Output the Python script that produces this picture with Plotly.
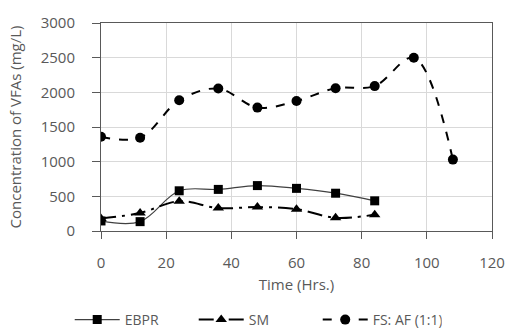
import plotly.graph_objects as go

time_ebpr = [0, 12, 24, 36, 48, 60, 72, 84]
ebpr = [145, 135, 580, 600, 655, 615, 545, 435]
time_sm = [0, 12, 24, 36, 48, 60, 72, 84]
sm = [180, 260, 430, 330, 345, 315, 190, 235]
time_fs = [0, 12, 24, 36, 48, 60, 72, 84, 96, 108]
fs = [1360, 1345, 1885, 2055, 1780, 1875, 2060, 2090, 2500, 1030]

x_ticks = [0, 20, 40, 60, 80, 100, 120]
y_ticks = [0, 500, 1000, 1500, 2000, 2500, 3000]

FONT = "Open Sans"
TXT = "#595959"

fig = go.Figure()
fig.add_trace(go.Scatter(
    x=time_ebpr, y=ebpr, name="EBPR", mode="lines+markers",
    line=dict(color="#404040", width=1.2, shape="spline"),
    marker=dict(symbol="square", size=9, color="black"),
))
fig.add_trace(go.Scatter(
    x=time_sm, y=sm, name="SM", mode="lines+markers",
    line=dict(color="black", width=2, dash="longdashdot", shape="spline"),
    marker=dict(symbol="triangle-up", size=10, color="black"),
))
fig.add_trace(go.Scatter(
    x=time_fs, y=fs, name="FS: AF (1:1)", mode="lines+markers",
    line=dict(color="black", width=2, dash="dash", shape="spline"),
    marker=dict(symbol="circle", size=10, color="black"),
))

fig.update_layout(
    width=507, height=328,
    margin=dict(l=101, r=15, t=23, b=97, autoexpand=False),
    paper_bgcolor="white", plot_bgcolor="white",
    font=dict(family=FONT, size=15, color=TXT),
    showlegend=True,
    legend=dict(orientation="h", x=-0.08, xanchor="left", y=-0.428, yanchor="middle",
                font=dict(size=14, color=TXT), itemwidth=45, entrywidth=64,
                tracegroupgap=0),
)
fig.update_xaxes(
    range=[0, 120], tickvals=x_ticks, ticktext=[str(v) for v in x_ticks],
    showgrid=True, gridcolor="#d9d9d9", gridwidth=1,
    showline=True, linecolor="#595959", linewidth=1, mirror=True,
    ticks="outside", ticklen=7, tickcolor="#595959",
    ticklabelstandoff=11,
    zeroline=False, automargin=False,
    title=dict(text="Time (Hrs.)", font=dict(size=15, color=TXT), standoff=8),
)
fig.update_yaxes(
    range=[0, 3000], tickvals=y_ticks, ticktext=[str(v) for v in y_ticks],
    showgrid=True, gridcolor="#d9d9d9", gridwidth=1,
    showline=True, linecolor="#595959", linewidth=1, mirror=True,
    ticks="outside", ticklen=8, tickcolor="#595959",
    ticklabelstandoff=14,
    zeroline=False, automargin=False,
    title=dict(text="Concentration of VFAs (mg/L)", font=dict(size=15, color=TXT), standoff=15),
)

# remove the default 8px page margin so the figure fills the window exactly
fig.write_html(
    "out.html",
    config={"displayModeBar": False},
    post_script="document.body.style.margin='0';document.body.style.overflow='hidden';",
)
